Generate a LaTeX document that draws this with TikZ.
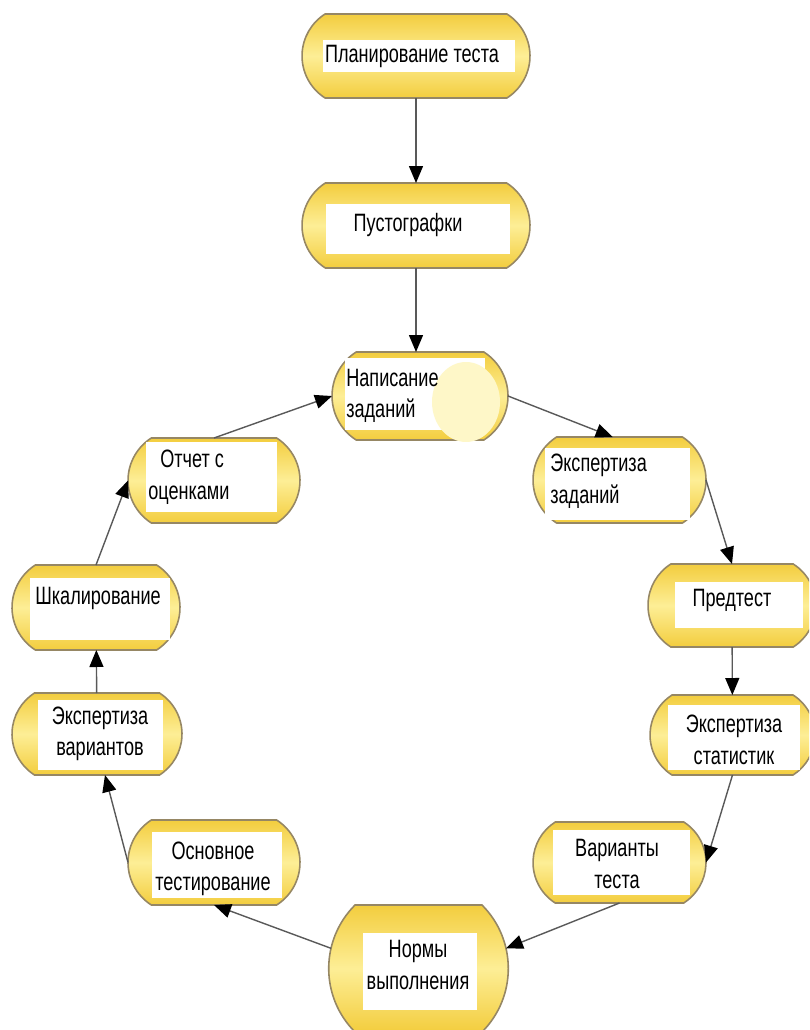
\documentclass[tikz,border=0pt]{standalone}
\usepackage{fontspec}
\setmainfont{Liberation Sans}[FakeStretch=0.72]
\usetikzlibrary{shapes.misc,arrows.meta}

\definecolor{stagegold}{RGB}{243,205,62}
\definecolor{stagelight}{RGB}{253,238,150}
\definecolor{stageedge}{RGB}{150,135,100}
\definecolor{blobpale}{RGB}{254,247,200}

\tikzset{
  stage/.style={rounded rectangle, rounded rectangle arc length=115, draw=stageedge, line width=0.9pt,
    top color=stagegold, bottom color=stagegold, middle color=stagelight, outer sep=0pt, inner sep=0pt},
  pane/.style={fill=white},
  lbl/.style={font=\fontsize{14.3}{18}\selectfont, align=center, inner sep=0pt},
  conn/.style={draw=gray!70!black, line width=0.8pt, -{Triangle[length=0.34cm,width=0.28cm,color=black]}}
}

\begin{document}
\begin{tikzpicture}[x=0.02cm,y=-0.02cm]
        \useasboundingbox (0,0) rectangle (809,1030);
        \clip (0,0) rectangle (809,1030);

        \node[stage,minimum width=4.56cm,minimum height=1.68cm](planning) at (416,56){};
        \fill[pane](323,40) rectangle (515,72);
        \node[lbl](planningT) at (412,56){Планирование теста};

        \node[stage,minimum width=4.56cm,minimum height=1.70cm](blanks) at (416,225.5){};
        \fill[pane](326,204) rectangle (510,254);
        \node[lbl](blanksT) at (408,225){Пустографки};

        \node[stage,minimum width=3.52cm,minimum height=1.76cm](writing) at (420,396){};
        \fill[pane](345,358) rectangle (485,430);
        \fill[blobpale](466,402) ellipse (0.68cm and 0.80cm);
        \node[lbl,align=left,anchor=west](writingT) at (346,396){Написание\\заданий};

        \node[stage,minimum width=3.46cm,minimum height=1.72cm](review) at (619.5,480){};
        \fill[pane](545,448) rectangle (690,520);
        \node[lbl,align=left,anchor=west](reviewT) at (550,481){Экспертиза\\заданий};

        \node[stage,minimum width=3.36cm,minimum height=1.66cm](pretest) at (732,605.5){};
        \fill[pane](675,582) rectangle (803,628);
        \node[lbl](pretestT) at (732,600){Предтест};

        \node[stage,minimum width=3.30cm,minimum height=1.60cm](statreview) at (732.5,735){};
        \fill[pane](668,705) rectangle (800,770);
        \node[lbl](statreviewT) at (734,740){Экспертиза\\статистик};

        \node[stage,minimum width=3.46cm,minimum height=1.62cm](forms) at (619.5,862.5){};
        \fill[pane](553,830) rectangle (690,895);
        \node[lbl](formsT) at (617,864){Варианты\\теста};

        \node[stage,rounded rectangle arc length=90,minimum width=3.46cm,minimum height=2.54cm](norms) at (418.5,968.5){};
        \fill[pane](363,933) rectangle (477,1010);
        \node[lbl](normsT) at (418,965){Нормы\\выполнения};

        \node[stage,minimum width=3.44cm,minimum height=1.70cm](maintest) at (214,862.5){};
        \fill[pane](152,832) rectangle (282,898);
        \node[lbl](maintestT) at (213,869){Основное\\тестирование};

        \node[stage,minimum width=3.40cm,minimum height=1.64cm](formreview) at (97,734){};
        \fill[pane](38,700) rectangle (163,770);
        \node[lbl](formreviewT) at (100,734){Экспертиза\\вариантов};

        \node[stage,minimum width=3.36cm,minimum height=1.70cm](scaling) at (96,607.5){};
        \fill[pane](30,578) rectangle (170,640);
        \node[lbl](scalingT) at (98,598){Шкалирование};

        \node[stage,minimum width=3.44cm,minimum height=1.70cm](report) at (214,480.5){};
        \fill[pane](146,442) rectangle (277,512);
        \node[lbl,align=left,anchor=west](reportT) at (148,477){\hspace*{0.24cm}Отчет с\\оценками};

        \draw[conn](planning)--(blanks);
        \draw[conn](blanks)--(blanks|-writing.north);
        \draw[conn](writing.east)--(review.99);
        \draw[conn](review.east)--(pretest.north);
        \draw[conn](pretest)--(statreview);
        \draw[conn](statreview.south)--(forms.east);
        \draw[conn](forms.south)--(norms.13);
        \draw[conn](norms.167)--(maintest.south);
        \draw[conn](maintest.west)--(formreview.-79);
        \draw[conn](formreview)--(scaling);
        \draw[conn](scaling.north)--(report.west);
        \draw[conn](report.north)--(writing.west);
    \end{tikzpicture}
\end{document}
